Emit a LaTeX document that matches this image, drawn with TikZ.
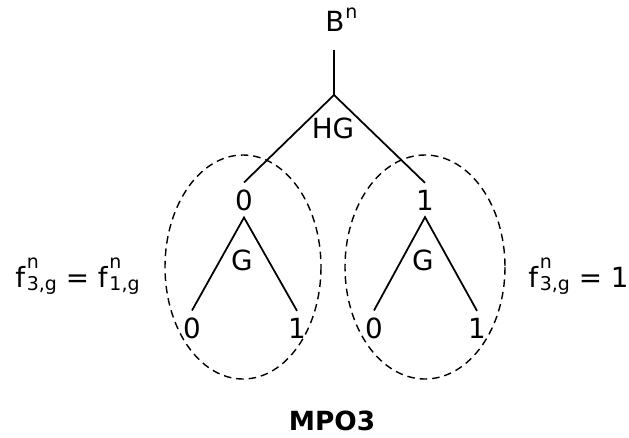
\documentclass[tikz,border=0pt]{standalone}
\usepackage{fontspec}
\setmainfont{DejaVu Sans}
\usetikzlibrary{positioning}
\newcommand{\smallidx}{\fontsize{10.8}{12}\selectfont}
\newcommand{\fng}[1]{f\kern1pt\rlap{\raisebox{0.66em}{\smallidx n}}\raisebox{-0.12em}{\smallidx #1}}

\begin{document}
\begin{tikzpicture}[x=0.02cm,y=-0.02cm,
  lbl/.style={inner sep=1pt,outer sep=3pt,font=\fontsize{15.8}{18}\selectfont},
  eq/.style={inner sep=0pt,anchor=base west,font=\fontsize{15.8}{18}\selectfont},
  br/.style={line width=1pt},
  grp/.style={line width=0.8pt,dash pattern=on 4.3pt off 2.8pt}]
  \useasboundingbox (0,0) rectangle (629,437);
  \node[eq] (root) at (325,31) {B\kern0.5pt\raisebox{0.45em}{\smallidx n}};
  \coordinate (top) at (334,50);
  \coordinate (fork) at (334,95);
  \node[lbl] (hg) at (333,128) {HG};
  \node[lbl] (l) at (244,200) {0};
  \node[lbl] (r) at (425,200) {1};
  \node[lbl] (lg) at (242,260) {G};
  \node[lbl] (rg) at (423,260) {G};
  \node[lbl] (ll) at (192,328) {0};
  \node[lbl] (lr) at (297,328) {1};
  \node[lbl] (rl) at (374,328) {0};
  \node[lbl] (rr) at (477,328) {1};
  \draw[br] (top) -- (fork);
  \draw[br] (fork) -- (l.north);
  \draw[br] (fork) -- (r.north);
  \draw[br] (ll.north) -- (l.south) -- (lr.north);
  \draw[br] (rl.north) -- (r.south) -- (rr.north);
  % groups
  \draw[grp] (243,267) ellipse [x radius=78, y radius=112];
  \draw[grp] (425,267) ellipse [x radius=80, y radius=112];
  \node[eq] (feql) at (15,287) {\fng{3,g} = \fng{1,g}};
  \node[eq] (feqr) at (528,287) {\fng{3,g} = 1};
  \node[lbl,font=\fontsize{15}{18}\selectfont\bfseries] (name) at (332,421) {MPO3};
\end{tikzpicture}
\end{document}
